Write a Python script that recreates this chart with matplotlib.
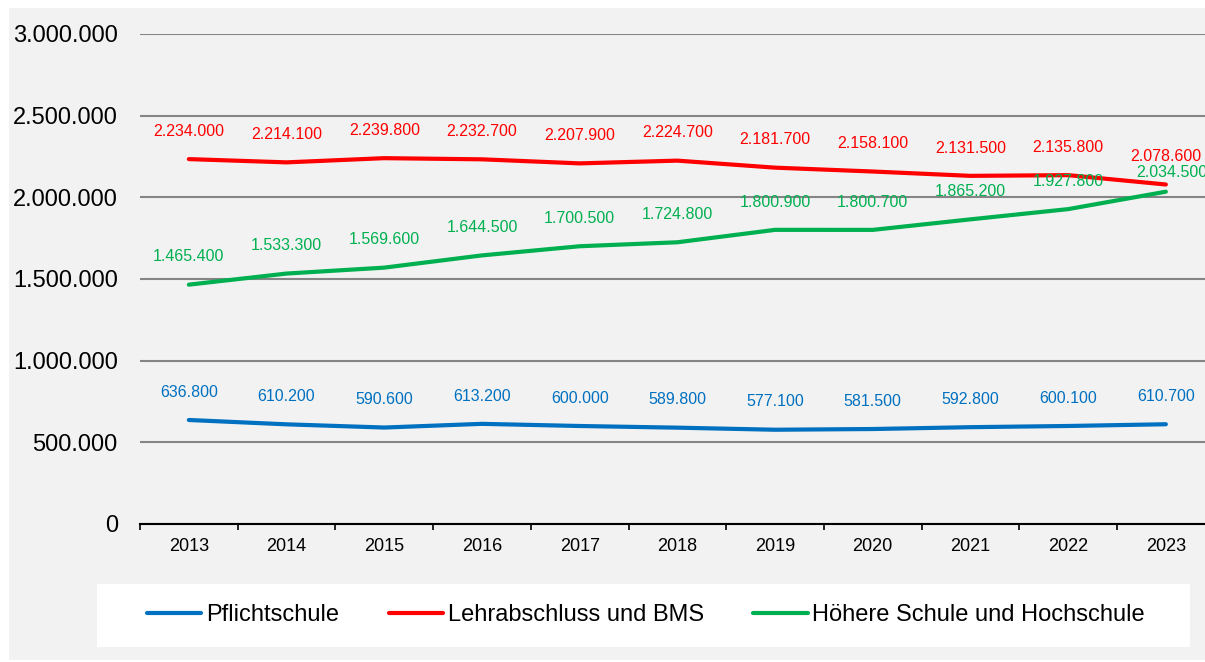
import matplotlib.pyplot as plt
from matplotlib.patches import Rectangle
from matplotlib.ticker import FuncFormatter

plt.rcParams['font.family'] = ['Liberation Sans', 'DejaVu Sans']

years = ['2013', '2014', '2015', '2016', '2017', '2018', '2019', '2020', '2021', '2022', '2023']
pflicht = [636800, 610200, 590600, 613200, 600000, 589800, 577100, 581500, 592800, 600100, 610700]
lehr = [2234000, 2214100, 2239800, 2232700, 2207900, 2224700, 2181700, 2158100, 2131500, 2135800, 2078600]
hoehere = [1465400, 1533300, 1569600, 1644500, 1700500, 1724800, 1800900, 1800700, 1865200, 1927800, 2034500]

series = [
    ('Pflichtschule', pflicht, '#0070C0'),
    ('Lehrabschluss und BMS', lehr, '#FF0000'),
    ('Höhere Schule und Hochschule', hoehere, '#00B050'),
]


def de_fmt(v):
    return f'{int(round(v)):,}'.replace(',', '.')


fig = plt.figure(figsize=(12.05, 6.62), dpi=100, facecolor='white')
# gray chart area and white legend box
fig.patches.append(Rectangle((9 / 1205, 2 / 662), 1.0, 652 / 662, transform=fig.transFigure,
                             facecolor='#f2f2f2', edgecolor='none', zorder=-2))
fig.patches.append(Rectangle((97 / 1205, 15 / 662), 1093 / 1205, 63 / 662, transform=fig.transFigure,
                             facecolor='white', edgecolor='none', zorder=-1))

ax = fig.add_axes([140 / 1205, 138 / 662, 1074.7 / 1205, 490 / 662])
ax.patch.set_alpha(0)

x = list(range(len(years)))
for name, vals, col in series:
    ax.plot(x, vals, color=col, lw=3, label=name, solid_capstyle='round', zorder=3)
    for i, v in enumerate(vals):
        off = (0, 20)
        if name.startswith('Höhere') and i == len(vals) - 1:
            off = (4, 14)
        ax.annotate(de_fmt(v), (i, v), xytext=off, textcoords='offset points',
                    ha='center', va='center', fontsize=11.5, color=col)

ax.set_xlim(-0.5, len(years) - 0.5)
ax.set_ylim(0, 3000000)
ax.set_yticks(range(0, 3000001, 500000))
ax.yaxis.set_major_formatter(FuncFormatter(lambda v, p: de_fmt(v)))
ax.grid(axis='y', color='#858585', lw=1.5)
ax.set_axisbelow(True)

ax.set_xticks(x)
ax.set_xticklabels(years)
ax.set_xticks([i - 0.5 for i in range(len(years) + 1)], minor=True)
ax.tick_params(axis='x', which='major', length=0, labelsize=13, pad=10)
ax.tick_params(axis='x', which='minor', length=4, width=1.2, direction='out', color='black')
ax.tick_params(axis='y', length=0, labelsize=17, pad=16)

for s in ['top', 'right', 'left']:
    ax.spines[s].set_visible(False)
ax.spines['bottom'].set_color('black')
ax.spines['bottom'].set_linewidth(1.5)
ax.spines['bottom'].set_zorder(2)

fig.legend(loc='center', bbox_to_anchor=(646 / 1205, 47 / 662), ncol=3, frameon=False,
           fontsize=17, handlelength=2.3, handletextpad=0.2, columnspacing=2.1)

fig.savefig('out.png', dpi=100, facecolor=fig.get_facecolor())
